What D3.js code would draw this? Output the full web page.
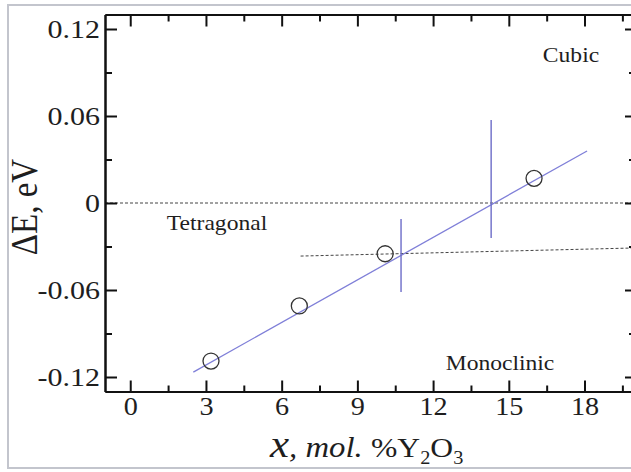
<!DOCTYPE html>
<html>
<head>
<meta charset="utf-8">
<script src="https://cdn.jsdelivr.net/npm/d3@7"></script>
<style>
  html, body { margin: 0; padding: 0; background: #fff; }
  svg { display: block; }
  text { font-family: "Liberation Serif", "Times New Roman", serif; fill: #1e1e1e; }
</style>
</head>
<body>
<script>
// Measured composition points (mol.% Y2O3) and energy differences (eV)
const compositions = [3.2, 6.7, 10.1, 16.0];
const energies = [-0.109, -0.071, -0.035, 0.017];

// Linear fit through the points, drawn between its two end points
const fitX = [2.5, 18.1];
const fitY = [-0.1166, 0.0359];

// Phase boundaries (vertical markers): x position and vertical extent
const boundaryX = [10.73, 14.3];
const boundaryTop = [-0.011, 0.0572];
const boundaryBottom = [-0.0614, -0.0241];

// Dashed reference lines
const zeroLineY = [0, 0];
const lowerLineX = [6.75, 20];
const lowerLineY = [-0.0366, -0.031];

// Axis ticks
const xMajor = [0, 3, 6, 9, 12, 15, 18];
const xMinor = [1.5, 4.5, 7.5, 10.5, 13.5, 16.5, 19.5];
const yMajor = [0.12, 0.06, 0, -0.06, -0.12];
const yMajorLabels = ["0.12", "0.06", "0", "-0.06", "-0.12"];
const yMinor = [0.09, 0.03, -0.03, -0.09];

// Phase region labels
const phaseNames = ["Cubic", "Tetragonal", "Monoclinic"];
const phaseX = [571, 217, 500];
const phaseY = [62, 230, 370];

const W = 631, H = 472;
const svg = d3.select("body").append("svg").attr("width", W).attr("height", H);

// light frame around the figure
svg.append("rect")
  .attr("x", 8).attr("y", 5).attr("width", 640).attr("height", 463)
  .attr("fill", "none").attr("stroke", "#c3c5cd").attr("stroke-width", 2);

const x = d3.scaleLinear().domain([-1, 20]).range([105, 635]);
const y = d3.scaleLinear().domain([-0.13, 0.13]).range([391.5, 14.5]);

const plot = svg.append("g");

// dashed reference lines
plot.append("line")
  .attr("x1", x(-1)).attr("x2", x(20))
  .attr("y1", y(zeroLineY[0])).attr("y2", y(zeroLineY[1]))
  .attr("stroke", "#444").attr("stroke-width", 1).attr("stroke-dasharray", "3,2");
plot.append("line")
  .attr("x1", x(lowerLineX[0])).attr("x2", x(lowerLineX[1]))
  .attr("y1", y(lowerLineY[0])).attr("y2", y(lowerLineY[1]))
  .attr("stroke", "#444").attr("stroke-width", 1).attr("stroke-dasharray", "3,2");

// fit line
plot.append("line")
  .attr("x1", x(fitX[0])).attr("y1", y(fitY[0]))
  .attr("x2", x(fitX[1])).attr("y2", y(fitY[1]))
  .attr("stroke", "#7f7fd8").attr("stroke-width", 1.3);

// phase boundary markers
plot.selectAll("line.boundary").data(boundaryX).enter().append("line")
  .attr("class", "boundary")
  .attr("x1", d => x(d)).attr("x2", d => x(d))
  .attr("y1", (d, i) => y(boundaryTop[i])).attr("y2", (d, i) => y(boundaryBottom[i]))
  .attr("stroke", "#6c6cc8").attr("stroke-width", 1.4);

// data points
plot.selectAll("circle").data(compositions).enter().append("circle")
  .attr("cx", d => x(d)).attr("cy", (d, i) => y(energies[i]))
  .attr("r", 8).attr("fill", "none").attr("stroke", "#333").attr("stroke-width", 1.3);

// axes
function styleAxis(g) {
  g.selectAll(".domain").attr("stroke", "#111").attr("stroke-width", 2);
  g.selectAll(".tick line").attr("stroke", "#111").attr("stroke-width", 2);
}

const axBottom = svg.append("g").attr("transform", `translate(0,${y(-0.13)})`)
  .call(d3.axisBottom(x).tickValues(xMajor).tickSize(-11).tickSizeOuter(0).tickFormat(d3.format("d")));
axBottom.selectAll("text")
  .attr("y", 24).attr("dy", 0)
  .style("font-size", "25px").attr("fill", "#1e1e1e")
  .attr("transform", "scale(1.13,1)");
styleAxis(axBottom);
const axBottomMinor = svg.append("g").attr("transform", `translate(0,${y(-0.13)})`)
  .call(d3.axisBottom(x).tickValues(xMinor).tickSize(-6).tickSizeOuter(0).tickFormat(""));
styleAxis(axBottomMinor);

const axTop = svg.append("g").attr("transform", `translate(0,${y(0.13)})`)
  .call(d3.axisTop(x).tickValues(xMajor).tickSize(-12).tickSizeOuter(0).tickFormat(""));
styleAxis(axTop);
const axTopMinor = svg.append("g").attr("transform", `translate(0,${y(0.13)})`)
  .call(d3.axisTop(x).tickValues(xMinor).tickSize(-7).tickSizeOuter(0).tickFormat(""));
styleAxis(axTopMinor);

const axLeft = svg.append("g").attr("transform", `translate(${x(-1)},0)`)
  .call(d3.axisLeft(y).tickValues(yMajor).tickSize(-12).tickSizeOuter(0)
    .tickFormat((d, i) => yMajorLabels[i]));
axLeft.selectAll("text")
  .attr("x", 0).attr("dy", "0.34em")
  .style("font-size", "25px").attr("fill", "#1e1e1e")
  .attr("transform", "translate(-5,0) scale(1.2,1)");
styleAxis(axLeft);
const axLeftMinor = svg.append("g").attr("transform", `translate(${x(-1)},0)`)
  .call(d3.axisLeft(y).tickValues(yMinor).tickSize(-7).tickSizeOuter(0).tickFormat(""));
styleAxis(axLeftMinor);

const axRight = svg.append("g").attr("transform", `translate(${x(20)},0)`)
  .call(d3.axisRight(y).tickValues(yMajor).tickSize(-10).tickSizeOuter(0).tickFormat(""));
styleAxis(axRight);
const axRightMinor = svg.append("g").attr("transform", `translate(${x(20)},0)`)
  .call(d3.axisRight(y).tickValues(yMinor).tickSize(-6).tickSizeOuter(0).tickFormat(""));
styleAxis(axRightMinor);

// phase labels
svg.selectAll("text.phase").data(phaseNames).enter().append("text")
  .attr("class", "phase")
  .attr("text-anchor", "middle")
  .attr("transform", (d, i) => `translate(${phaseX[i]},${phaseY[i]}) scale(1.15,1)`)
  .style("font-size", "20.5px").attr("fill", "#2a2a2a")
  .text(d => d);

// y axis title
svg.append("text")
  .attr("text-anchor", "middle")
  .attr("transform", "translate(37,207) scale(1.15,1) rotate(-90)")
  .style("font-size", "33px")
  .text("ΔE, eV");

// x axis title
const xt = svg.append("text")
  .attr("transform", "translate(270,457) scale(1.13,1)");
xt.append("tspan").style("font-style", "italic").style("font-size", "38px").text("x");
xt.append("tspan").style("font-style", "italic").style("font-size", "29px").text(", mol. ");
xt.append("tspan").style("font-size", "28px").text("%Y");
xt.append("tspan").style("font-size", "18px").attr("dy", 7).text("2");
xt.append("tspan").style("font-size", "28px").attr("dy", -7).text("O");
xt.append("tspan").style("font-size", "18px").attr("dy", 7).text("3");
</script>
</body>
</html>
